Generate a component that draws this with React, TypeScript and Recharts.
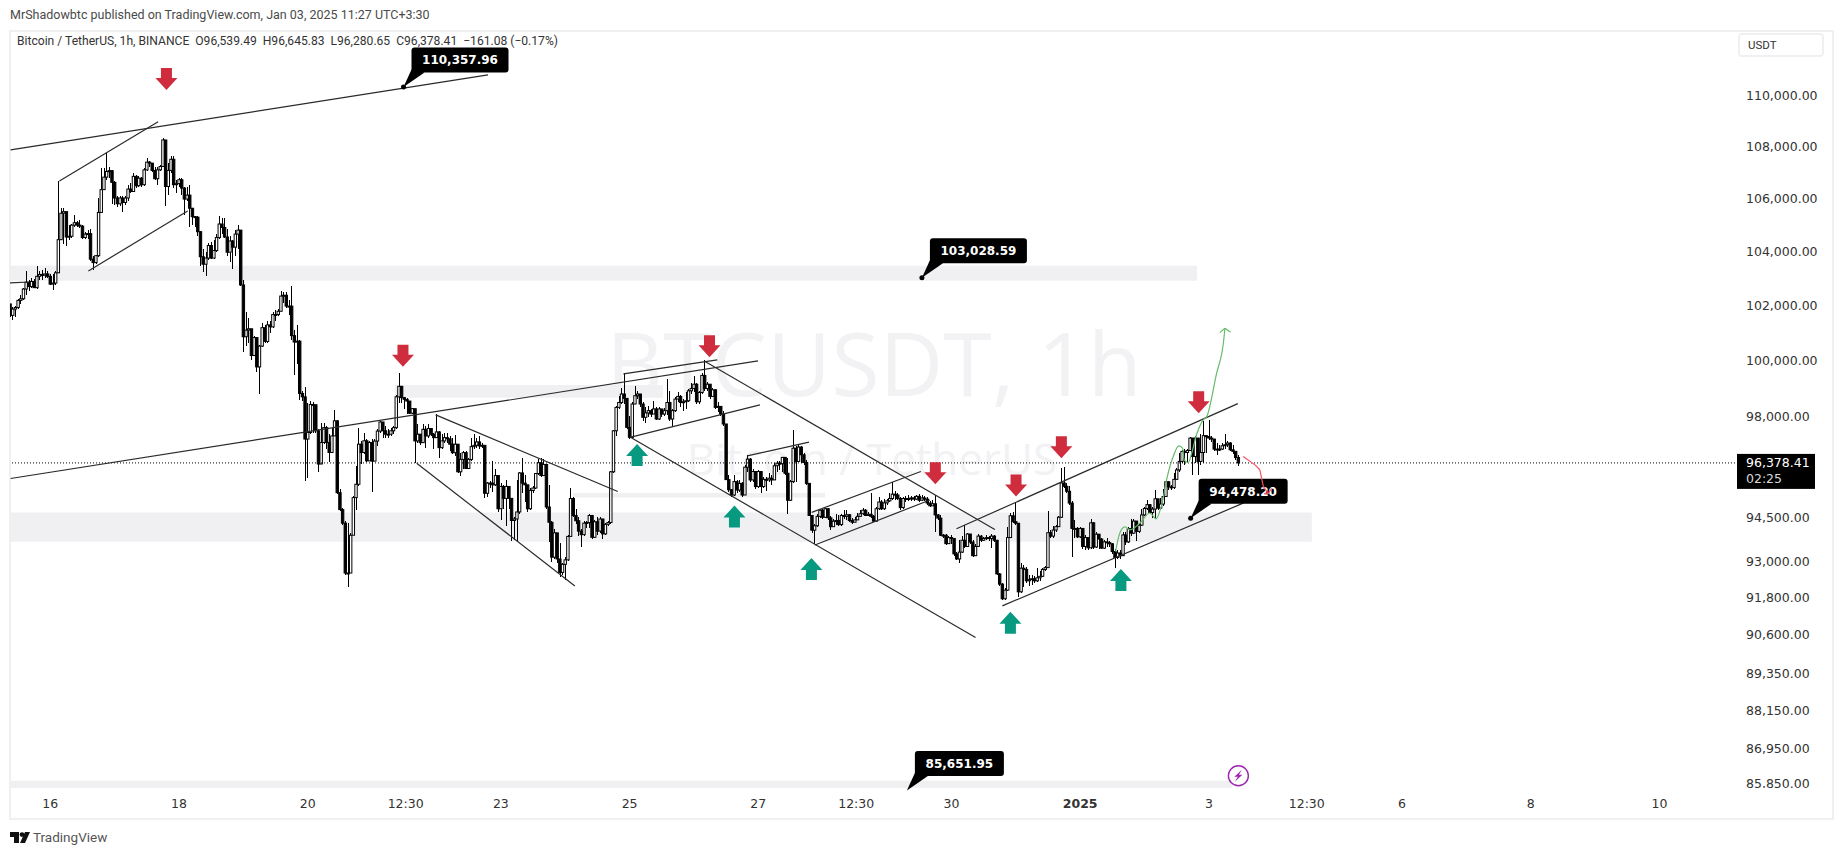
import React from 'react';
import {
  ComposedChart,
  Bar,
  Line,
  XAxis,
  YAxis,
  ReferenceArea,
  ReferenceDot,
  ReferenceLine,
} from 'recharts';

// hour 0 is Dec 16 00:00, one candle per hour
const firstHour = -15;
const firstOpen = 102060;

const closes = [
  101640, 101870, 101930, 102190, 102250, 102610, 102860, 102700, 102890, 102660, 103080, 103150, 103120, 103170, 103080,
  102790, 102830, 103210, 104450, 105450, 105510, 104550, 104580, 105000, 105090, 105000, 104960, 104530, 104660, 104680,
  103720, 103590, 103850, 105480, 106350, 106830, 107050, 107080, 106630, 106030, 105810, 106030, 105860, 106030, 106370,
  106280, 106860, 106500, 106790, 106540, 107110, 107410, 107370, 107090, 106770, 107110, 107240, 108270, 106470, 107090,
  107520, 106540, 106580, 106730, 106410, 105990, 106140,
  105640, 105320, 105300, 104750, 103810, 103530, 103760, 104230, 103760, 104040, 104530, 105040, 104910, 104550, 103980,
  104400, 104170, 104660, 104810, 102760, 100860, 101100, 101150, 100180, 100830, 99770, 100520, 101190, 100690, 101290,
  101220, 101670, 101670, 101790, 102350, 102380, 101980, 101980, 100900, 100670, 100700, 98820, 98700,
  97210, 97440, 98430, 98420, 97500, 96340, 97090, 97610, 97090, 96740, 97320, 97850, 95350, 94770, 94310, 92630, 92630,
  93900, 95180, 95640, 97030, 96740, 97150, 96450, 97090,
  96440, 97140, 97490, 97810, 97500, 97380, 97380, 97500, 97610, 98700, 99075, 98670, 98610, 98550, 98120, 98280, 97145,
  97380, 97085, 97550, 97320, 97580, 97380, 97260, 97460, 96910, 97145, 97260, 97220, 97030, 96735, 97030, 96070, 96500,
  96735, 96185, 96500, 96945, 96990, 97110, 96970, 96990, 95330, 95680, 95680, 95620, 95940, 94800, 95565, 95155, 95565,
  95155, 94400, 94450, 94690, 96030, 95680, 95620, 94800, 95425, 95510, 96010, 96385, 95940, 96325, 94860, 94340,
  93160, 93980, 93100, 92650, 92920, 93070, 93860, 95150, 94570, 94390, 94040, 93920, 94310, 94330, 94570, 93830, 94355,
  94040, 94450, 93945, 94270, 94330, 96070, 97500, 98325, 98500, 98800, 98645, 97620, 97270, 98445, 98740, 98800, 98445,
  97975, 98130, 98210, 98090, 98270, 97915, 98270, 98090, 98210, 98500, 97915, 98210, 98620, 98715, 98500, 98525, 98560,
  98915, 98995, 99150, 98525, 98855, 99465, 98995, 99150, 98715, 98950, 98325, 98360, 98090, 97740, 95800, 95450,
  95270, 95730, 95440, 95670, 95270, 96230, 96510, 95790, 96080, 95560, 96080, 95560, 95810, 95790, 95850, 95790, 96280,
  96370, 96350, 96570, 96020, 95090, 95730, 96890, 96430, 96930, 96660, 96390, 95670, 94570, 94070, 94220, 94540, 94750,
  94510, 94800, 94490, 94190, 94375, 94400, 94260, 94570, 94540, 94595, 94400, 94340, 94420, 94540, 94630, 94750, 94570,
  94610, 94540, 94375, 94800, 95030, 94800, 95000, 95070, 95150, 95300, 95270, 95150, 94840, 95150, 95120, 95150,
  95170, 95130, 95225, 95090, 95170, 95130, 94995, 94900, 94970, 94590, 94480, 93900, 93900, 93615, 93820, 93790, 93270,
  93100, 93330, 93730, 93520, 93940, 93670, 93210, 93520, 93870, 93730, 93790, 93820, 93790, 93870, 93730, 92600, 92260,
  91775, 92060, 93820, 94560, 94360, 94305, 92005, 92790, 92750, 92370, 92410, 92440, 92370, 92470, 92520, 92750, 92810,
  93985, 93870, 94075, 94190, 94510, 95685, 95570, 95400, 94995, 94130, 94130, 93845, 94130, 93520, 93820, 93475,
  94320, 93500, 93935, 93770, 93465, 93675, 93650, 93610, 93350, 93150, 93300, 93210, 93910, 93675, 94120, 93970, 94380,
  94030, 94240, 94590, 94810, 94940, 94670, 94790, 95140, 94820, 94960, 95220, 95725, 95550, 95525, 95810, 96135, 96430,
  96780, 96740, 96810, 97245, 96600, 97245, 96430, 96740, 97330, 97300, 97245, 97210, 96860, 96835, 96860, 96975, 97010,
  97070, 96835, 96780, 96565, 96378.41,
];

const highs = [
  102060, 101930, 102000, 102250, 102380, 102630, 103270, 102950, 103020, 102990, 103470, 103270, 103300, 103400, 103270,
  103170, 103150, 103270, 106690, 105640, 105640, 105450, 105000, 105030, 105390, 105170, 105200, 105000, 104750, 104810,
  104870, 103850, 103890, 106030, 107180, 107180, 107780, 107240, 107110, 106670, 106090, 106090, 106090, 106120, 106540,
  106600, 106990, 106920, 106860, 106830, 107180, 107560, 107470, 107370, 107240, 107220, 107300, 108330, 108270, 107370,
  107630, 107630, 106730, 106800, 106800, 106450, 106450,
  106540, 105640, 105350, 105350, 104770, 104110, 103980, 104320, 104360, 104430, 104660, 105350, 105260, 105260, 104840,
  104580, 104450, 104810, 105000, 104810, 102950, 101760, 101560, 101100, 100890, 100810, 100550, 101350, 101270, 101450,
  101450, 101760, 101850, 101880, 102530, 102510, 102510, 102190, 102730, 101100, 101270, 100740, 98920,
  99040, 98480, 98540, 98510, 98250, 97560, 97790, 97790, 97670, 97380, 97610, 98250, 97880, 95470, 94830, 94370, 94310,
  93960, 95240, 96280, 97610, 97150, 97440, 97210, 97150,
  97200, 97200, 97550, 97850, 97790, 97670, 97550, 97610, 97670, 98750, 99540, 99075, 98700, 98665, 98550, 98300, 98280,
  97730, 97380, 97730, 97670, 97730, 97610, 97440, 98080, 97495, 97380, 97440, 97440, 97320, 97260, 97340, 97030, 96735,
  96790, 96790, 96560, 97260, 97380, 97230, 97320, 97060, 96990, 95705, 95740, 96440, 96150, 95940, 95680, 95620, 95800,
  95565, 95120, 94510, 95800, 96060, 96560, 95975, 95620, 95510, 95565, 96030, 96500, 96560, 96500, 96325, 95620,
  94390, 94095, 93980, 93625, 92980, 93155, 93920, 95505, 95210, 94800, 94510, 94095, 94390, 94390, 94625, 94570, 94415,
  94510, 94510, 94450, 94330, 94390, 96095, 97540, 98385, 98740, 99030, 99540, 98645, 98030, 98500, 99090, 98915, 98800,
  98500, 98325, 98385, 98270, 98560, 98325, 98325, 98270, 98290, 99350, 98915, 98270, 98680, 98855, 98760, 98620, 98855,
  98995, 99210, 99440, 99185, 98915, 99560, 100030, 99230, 99115, 99030, 98995, 98525, 98385, 98210, 97740, 95975,
  95465, 95965, 95790, 95790, 95730, 96310, 96660, 96545, 96160, 96115, 96140, 96080, 95905, 95905, 96020, 95965, 96370,
  96430, 96430, 96600, 96600, 96545, 95790, 97530, 96950, 97010, 96975, 96720, 96465, 95675, 94540, 94280, 94630, 94805,
  94805, 94840, 94840, 94540, 94455, 94630, 94570, 94630, 94745, 94770, 94630, 94490, 94515, 94655, 94745, 94840, 94805,
  94690, 95325, 94570, 94860, 95210, 95095, 95150, 95150, 95325, 95730, 95420, 95325, 95210, 95210, 95235, 95270,
  95250, 95225, 95280, 95315, 95280, 95225, 95200, 95050, 95110, 95280, 94630, 94590, 93940, 93940, 93870, 93900, 93820,
  93330, 93730, 93870, 94250, 93960, 93940, 93730, 93615, 93940, 93900, 93845, 93900, 93870, 93940, 93900, 93750, 92640,
  92290, 92120, 94190, 94650, 94675, 95020, 94305, 92980, 92900, 92830, 92580, 92580, 92520, 92790, 92695, 92810, 92870,
  94710, 94075, 94210, 94250, 94560, 96200, 96240, 95685, 95570, 95050, 94420, 94190, 94190, 94130, 93900, 93820,
  94440, 94355, 94000, 93850, 93795, 93735, 93795, 93700, 93650, 93420, 93385, 93385, 94000, 94000, 94170, 94440, 94440,
  94320, 94285, 94790, 94870, 95105, 94965, 94850, 95455, 95140, 95175, 95490, 95760, 95760, 95610, 96020, 96190, 96720,
  96835, 96860, 96860, 97280, 97245, 97300, 97245, 97400, 97830, 97330, 97865, 97330, 97210, 97070, 97010, 97070, 97400,
  97130, 97095, 97010, 96775, 96645.83,
];

const lows = [
  101580, 101460, 101580, 101890, 102060, 102190, 102380, 102530, 102630, 102630, 102610, 102950, 102950, 103020, 103020,
  102760, 102570, 102760, 103210, 104430, 104300, 104230, 104430, 104530, 104940, 104940, 104880, 104490, 104490, 104490,
  103660, 103300, 103530, 103810, 106030, 106350, 106730, 106790, 105810, 105770, 105680, 105730, 105510, 105770, 105900,
  106220, 106410, 106410, 106470, 106470, 106500, 107050, 107220, 107010, 106730, 106540, 107050, 107220, 105730, 106150,
  106990, 106410, 106220, 106470, 106150, 105390, 105900,
  104940, 105000, 104940, 104580, 103470, 103250, 103080, 103680, 103720, 103720, 103980, 104490, 104680, 104520, 103850,
  103630, 103360, 103850, 104110, 102730, 100300, 100520, 100640, 100010, 100180, 99580, 98790, 100490, 100650, 100650,
  100990, 101190, 101450, 101630, 101790, 102100, 101900, 101670, 100740, 99490, 99860, 98580, 98550,
  95760, 95870, 97380, 97440, 97440, 96050, 96340, 97030, 96860, 96400, 96740, 97300, 95290, 94710, 94250, 92570, 92180,
  92630, 93900, 94770, 95580, 96340, 96690, 96400, 96450,
  95390, 96440, 96970, 97440, 97260, 97260, 97260, 97320, 97380, 97580, 98490, 98490, 98280, 98080, 98080, 98080, 96380,
  97060, 96990, 97060, 96910, 97260, 97320, 96850, 97260, 96560, 96850, 97085, 97085, 96790, 96675, 96620, 96030, 95920,
  96150, 96150, 96150, 96440, 96850, 96910, 96850, 96910, 95155, 95210, 95510, 95390, 95565, 94690, 94400, 94805, 94220,
  94805, 93690, 93750, 93690, 94630, 95330, 95040, 94690, 94770, 95355, 95470, 95975, 95890, 95915, 94805, 93670,
  93000, 93100, 92980, 92510, 92570, 92390, 93040, 93860, 94510, 94270, 93860, 93510, 93860, 94155, 94155, 93780, 93800,
  93920, 93980, 93780, 93920, 94215, 94270, 96035, 97325, 98270, 98445, 98445, 97560, 97210, 97210, 98445, 98620, 98325,
  97855, 97760, 97975, 97975, 98090, 97880, 97890, 97975, 98030, 98055, 97855, 97680, 98150, 98500, 98325, 98210, 98270,
  98500, 98800, 98855, 98445, 98445, 98800, 98915, 98915, 98620, 98680, 98270, 98150, 98030, 97680, 95775, 95390,
  95210, 95235, 95325, 95385, 95210, 95270, 96080, 95730, 95730, 95465, 95500, 95325, 95500, 95420, 95730, 95615, 95770,
  96080, 96140, 96080, 95965, 94630, 95070, 95700, 95730, 96395, 96370, 96310, 95615, 94540, 93990, 93590, 94165, 94490,
  94455, 94490, 94420, 94075, 94225, 94260, 94225, 94225, 94455, 94400, 94340, 94280, 94375, 94420, 94515, 94570, 94540,
  94540, 94490, 94340, 94375, 94770, 94770, 94770, 94920, 95035, 95115, 95115, 95095, 94770, 94805, 95035, 95070,
  95050, 95050, 95085, 95020, 95050, 95050, 94940, 94855, 94880, 94020, 94420, 93870, 93820, 93560, 93590, 93615, 93210,
  93060, 92980, 93290, 93480, 93500, 93615, 93180, 93210, 93500, 93670, 93705, 93730, 93705, 93480, 93670, 92560, 92210,
  91720, 91750, 92030, 93790, 94305, 94250, 91830, 91950, 92180, 92290, 92210, 92235, 92290, 92325, 92370, 92490, 92695,
  92790, 93820, 93820, 94020, 94190, 94480, 95510, 95340, 94940, 93155, 93790, 93790, 93790, 93440, 93385, 93385,
  93440, 93420, 93465, 93440, 93420, 93440, 93500, 93500, 93270, 92800, 93090, 93115, 93185, 93585, 93650, 93890, 93935,
  93700, 93970, 94205, 94555, 94755, 94610, 94470, 94470, 94755, 94905, 94905, 95200, 95455, 95455, 95490, 95785, 96075,
  96390, 96310, 96390, 96780, 95960, 96370, 95960, 96310, 96370, 96720, 97190, 97095, 96780, 96660, 96780, 96815, 96860,
  96930, 96780, 96695, 96485, 96280.65,
];

const priceTicks = [110000, 108000, 106000, 104000, 102000, 100000, 98000, 94500, 93000, 91800, 90600, 89350, 88150, 86950, 85850];
const timeTicks = [0, 48, 96, 132.5, 168, 216, 264, 300.5, 336, 384, 432, 468.5, 504, 552, 600];
const timeLabels = ['16', '18', '20', '12:30', '23', '25', '27', '12:30', '30', '2025', '3', '12:30', '6', '8', '10'];

const lastPrice = 96378.41;
const countdown = '02:25';

// hour1, price1, hour2, price2
const trendLines = [
  [-14.8, 107888, 163.2, 110840],
  [3.4, 106683, 40.2, 108986],
  [14.2, 103280, 51.2, 105536],
  [-15, 102834, -8, 102870],
  [-14.8, 95838, 263.9, 99986],
  [213.7, 99518, 248.7, 100020],
  [216.5, 97275, 264.6, 98412],
  [244, 99977, 352.2, 94090],
  [216, 97290, 345, 90500],
  [143.7, 98060, 211.6, 95390],
  [136.6, 96366, 195.6, 92200],
  [259.9, 96620, 282.9, 97100],
  [283.9, 94675, 324.6, 96080],
  [285.1, 93570, 328, 95100],
  [337.9, 94120, 442.8, 98460],
  [355, 91540, 445, 95000],
];

// hour1, hour2, priceTop, priceBottom
const zones = [
  [-15.03, 427.6, 103470, 102920],
  [-15.03, 470.4, 94675, 93680],
  [128.5, 228.5, 99125, 98670],
  [194.9, 288.9, 95340, 95185],
  [-15.03, 440.6, 85950, 85726],
];

const downArrows = [
  [43.3, 110240],
  [131.5, 99780],
  [245.8, 100120],
  [330, 95640],
  [360.1, 95220],
  [377, 96540],
  [428.2, 98120],
];
const upArrows = [
  [218.8, 97040],
  [255.1, 94910],
  [283.8, 93130],
  [358, 91350],
  [399.2, 92760],
];

const priceNotes = [
  { h: 131.7, price: 110357.96 },
  { h: 325, price: 103028.59 },
  { h: 425.2, price: 94478.2 },
  { h: 319.4, price: 85651.95 },
];

const greenPath = [
  { h: 397.2, p: 93345 }, { h: 398.8, p: 93975 }, { h: 400.7, p: 94180 }, { h: 402.6, p: 94080 },
  { h: 406.3, p: 94315 }, { h: 410, p: 94655 }, { h: 412.3, p: 94455 }, { h: 414.4, p: 94935 },
  { h: 416.5, p: 95905 }, { h: 418.7, p: 96600 }, { h: 420.8, p: 96970 }, { h: 422.2, p: 96890 },
  { h: 422.8, p: 96485 }, { h: 424.3, p: 96390 }, { h: 425.6, p: 96720 }, { h: 427.4, p: 97360 },
  { h: 429.9, p: 97885 }, { h: 431.2, p: 98000 }, { h: 434.9, p: 99545 }, { h: 437.4, p: 100625 },
  { h: 438, p: 101170 },
];
const greenHead = [[436.1, 101010, 438, 101170], [440.1, 101020, 438, 101170]];

// the red sketch is drawn last, it runs across the 94,478.20 note
const redStrokes = [
  [444.8, 96600, 449.2, 96310],
  [449.2, 96310, 451, 96140],
  [451, 96140, 452.3, 95565],
  [452.3, 95565, 454.1, 95315],
  [452.6, 95315, 454.1, 95315],
  [454.1, 95315, 455.4, 95500],
];

const rows = closes.map((close, i) => {
  const open = i === 0 ? firstOpen : closes[i - 1];
  return {
    h: firstHour + i,
    open,
    close,
    wick: [lows[i], highs[i]],
    body: [Math.min(open, close), Math.max(open, close)],
  };
});

const FONT = '"DejaVu Sans", sans-serif';
const hourDomain = [-15.03, 629.3];
const priceDomain = [85726, 112565];
const paneBottom = 788;

const CandleBody = (props: any) => {
  const { x, y, width, height, payload } = props;
  const top = Math.min(y, y + height);
  const tall = Math.max(Math.abs(height), 1);
  const up = payload.close >= payload.open;
  const mid = x + width / 2;
  return (
    <rect
      x={mid - 1.2}
      y={top}
      width={2.4}
      height={tall}
      fill={up ? '#ffffff' : '#000000'}
      stroke="#000000"
      strokeWidth={1}
    />
  );
};

const Wick = (props: any) => {
  const { x, y, width, height } = props;
  return <rect x={x} y={Math.min(y, y + height)} width={width} height={Math.abs(height)} fill="#000000" shapeRendering="crispEdges" />;
};

const DownArrow = ({ cx, cy }: any) => (
  <polygon
    points={`${cx},${cy} ${cx - 11},${cy - 12} ${cx - 5.5},${cy - 12} ${cx - 5.5},${cy - 22} ${cx + 5.5},${cy - 22} ${cx + 5.5},${cy - 12} ${cx + 11},${cy - 12}`}
    fill="#cf2d3e"
  />
);

const UpArrow = ({ cx, cy }: any) => (
  <polygon
    points={`${cx},${cy} ${cx - 11},${cy + 12} ${cx - 5.5},${cy + 12} ${cx - 5.5},${cy + 22} ${cx + 5.5},${cy + 22} ${cx + 5.5},${cy + 12} ${cx + 11},${cy + 12}`}
    fill="#089a81"
  />
);

// drawn as the shape of a zero length reference line, so the red strokes can go on top of it
const PriceNote = ({ x1, y1, text }: any) => {
  const w = text.length > 9 ? 97 : 89;
  const left = x1 + 8;
  const bottom = y1 - 14.5;
  return (
    <g>
      {y1 < paneBottom && <circle cx={x1} cy={y1} r={2.5} fill="#000000" />}
      <polygon points={`${x1},${y1} ${left},${bottom - 3} ${left + 13},${bottom}`} fill="#000000" />
      <rect x={left} y={bottom - 25} width={w} height={25} rx={3} fill="#000000" />
      <text x={left + w / 2} y={bottom - 8} textAnchor="middle" fill="#ffffff" fontFamily={FONT} fontWeight="bold" fontSize={12}>
        {text}
      </text>
    </g>
  );
};

const LastPriceTag = ({ cx, cy }: any) => (
  <g>
    <rect x={cx - 1} y={cy - 9} width={78} height={35} fill="#000000" />
    <text x={cx + 8} y={cy + 4} fill="#ffffff" fontFamily={FONT} fontSize={12.5}>
      {lastPrice.toLocaleString('en-US', { minimumFractionDigits: 2 })}
    </text>
    <text x={cx + 8} y={cy + 20} fill="#d8d8d8" fontFamily={FONT} fontSize={12.5}>
      {countdown}
    </text>
  </g>
);

const BoltIcon = ({ cx, cy }: any) => (
  <g>
    <circle cx={cx} cy={cy} r={10} fill="#ffffff" stroke="#9c27b0" strokeWidth={1.4} />
    <polygon
      points={`${cx + 3.5},${cy - 6} ${cx - 4},${cy + 1} ${cx - 0.5},${cy + 1} ${cx - 3.5},${cy + 6} ${cx + 4},${cy - 1} ${cx + 0.5},${cy - 1}`}
      fill="#9c27b0"
    />
  </g>
);

const TimeTick = ({ x, y, payload }: any) => {
  const label = timeLabels[timeTicks.indexOf(payload.value)];
  return (
    <text x={x} y={y + 14} textAnchor="middle" fill="#333333" fontFamily={FONT} fontSize={12.5} fontWeight={label === '2025' ? 'bold' : 'normal'}>
      {label}
    </text>
  );
};

export default function App() {
  return (
    <div style={{ position: 'absolute', left: 0, top: 0, width: 1835, height: 855, background: '#ffffff', overflow: 'hidden' }}>
      <div style={{ position: 'absolute', left: 10, top: 7, fontFamily: 'Roboto, sans-serif', fontSize: 12.5, color: '#4a4a4a', whiteSpace: 'nowrap' }}>
        MrShadowbtc published on TradingView.com, Jan 03, 2025 11:27 UTC+3:30
      </div>
      <div style={{ position: 'absolute', left: 9, top: 30, width: 1821, height: 786, border: '2px solid #f0f0f3' }} />

      {/* watermark sits under the chart */}
      <div style={{ position: 'absolute', left: 598, top: 302, width: 552, textAlign: 'center', fontFamily: '"Open Sans", sans-serif', fontSize: 88, lineHeight: '120px', color: '#f2f2f4', whiteSpace: 'nowrap' }}>
        BTCUSDT, 1h
      </div>
      <div style={{ position: 'absolute', left: 672, top: 428, width: 400, textAlign: 'center', fontFamily: '"Open Sans", sans-serif', fontSize: 44, lineHeight: '60px', color: '#f2f2f4', whiteSpace: 'nowrap' }}>
        Bitcoin / TetherUS
      </div>

      <div style={{ position: 'absolute', left: 0, top: 0 }}>
        <ComposedChart width={1835} height={855} data={rows} margin={{ top: 32, right: 3, bottom: 36, left: 10 }}>
          <XAxis
            dataKey="h"
            type="number"
            domain={hourDomain}
            allowDataOverflow
            ticks={timeTicks}
            interval={0}
            axisLine={false}
            tickLine={false}
            height={31}
            tick={<TimeTick />}
            tickMargin={0}
          />
          <XAxis xAxisId="wick" dataKey="h" type="number" domain={hourDomain} allowDataOverflow hide />
          <YAxis
            orientation="right"
            scale="log"
            domain={priceDomain}
            allowDataOverflow
            ticks={priceTicks}
            interval={0}
            width={94}
            axisLine={false}
            tickLine={false}
            tick={{ fontFamily: FONT, fontSize: 12.5, fill: '#333333' }}
            tickFormatter={(v: number) => v.toLocaleString('en-US', { minimumFractionDigits: 2 })}
          />

          {zones.map((z, i) => (
            <ReferenceArea key={i} x1={z[0]} x2={z[1]} y1={z[2]} y2={z[3]} fill="#f0f0f3" fillOpacity={1} stroke="none" ifOverflow="visible" />
          ))}

          <ReferenceLine y={lastPrice} stroke="#000000" strokeWidth={1} strokeDasharray="1 2" />

          <Bar xAxisId="wick" dataKey="wick" barSize={1} shape={<Wick />} isAnimationActive={false} />
          <Bar dataKey="body" barSize={2} shape={<CandleBody />} isAnimationActive={false} />

          {trendLines.map((t, i) => (
            <ReferenceLine
              key={i}
              segment={[{ x: t[0], y: t[1] }, { x: t[2], y: t[3] }]}
              stroke="#2a2a2a"
              strokeWidth={1.2}
              ifOverflow="visible"
            />
          ))}

          {downArrows.map((a, i) => (
            <ReferenceDot key={i} x={a[0]} y={a[1]} ifOverflow="visible" shape={<DownArrow />} />
          ))}
          {upArrows.map((a, i) => (
            <ReferenceDot key={i} x={a[0]} y={a[1]} ifOverflow="visible" shape={<UpArrow />} />
          ))}

          <Line data={greenPath} dataKey="p" type="monotone" stroke="#66bb6a" strokeWidth={1.2} dot={false} isAnimationActive={false} />
          {greenHead.map((t, i) => (
            <ReferenceLine key={i} segment={[{ x: t[0], y: t[1] }, { x: t[2], y: t[3] }]} stroke="#66bb6a" strokeWidth={1.2} ifOverflow="visible" />
          ))}

          {priceNotes.map((n, i) => (
            <ReferenceLine
              key={i}
              segment={[{ x: n.h, y: n.price }, { x: n.h, y: n.price }]}
              ifOverflow="visible"
              shape={(p: any) => <PriceNote x1={p.x1} y1={p.y1} text={n.price.toLocaleString('en-US', { minimumFractionDigits: 2 })} />}
            />
          ))}
          {redStrokes.map((t, i) => (
            <ReferenceLine key={i} segment={[{ x: t[0], y: t[1] }, { x: t[2], y: t[3] }]} stroke="#f7525f" strokeWidth={1.2} ifOverflow="visible" />
          ))}

          <ReferenceDot x={443} y={86105} ifOverflow="visible" shape={<BoltIcon />} />
          <ReferenceDot x={hourDomain[1]} y={lastPrice} ifOverflow="visible" shape={<LastPriceTag />} />
        </ComposedChart>
      </div>

      {/* legend row and price unit box go over the chart */}
      <div style={{ position: 'absolute', left: 17, top: 34, fontFamily: 'Roboto, sans-serif', fontSize: 12.1, color: '#333333', whiteSpace: 'nowrap' }}>
        Bitcoin / TetherUS, 1h, BINANCE&nbsp;&nbsp;O96,539.49&nbsp;&nbsp;H96,645.83&nbsp;&nbsp;L96,280.65&nbsp;&nbsp;C96,378.41&nbsp;&nbsp;−161.08 (−0.17%)
      </div>
      <div style={{ position: 'absolute', left: 1738, top: 33, width: 74, height: 20, border: '2px solid #f0f0f3', borderRadius: 4, fontFamily: 'Roboto, sans-serif', fontSize: 11.5, lineHeight: '20px', color: '#333333', paddingLeft: 8, boxSizing: 'content-box' }}>
        USDT
      </div>
      <div style={{ position: 'absolute', left: 1738, top: 788, width: 92, height: 29, background: '#ffffff' }} />

      <svg style={{ position: 'absolute', left: 10, top: 832 }} width={20} height={11}>
        <polygon points="0,0 9,0 9,11 4,11 4,5 0,5" fill="#111111" />
        <circle cx={12} cy={2.6} r={2.4} fill="#111111" />
        <polygon points="15,0 20,0 15,11 10,11" fill="#111111" />
      </svg>
      <div style={{ position: 'absolute', left: 33, top: 829, fontFamily: 'Roboto, sans-serif', fontSize: 13.5, color: '#555555', whiteSpace: 'nowrap' }}>
        TradingView
      </div>
    </div>
  );
}
